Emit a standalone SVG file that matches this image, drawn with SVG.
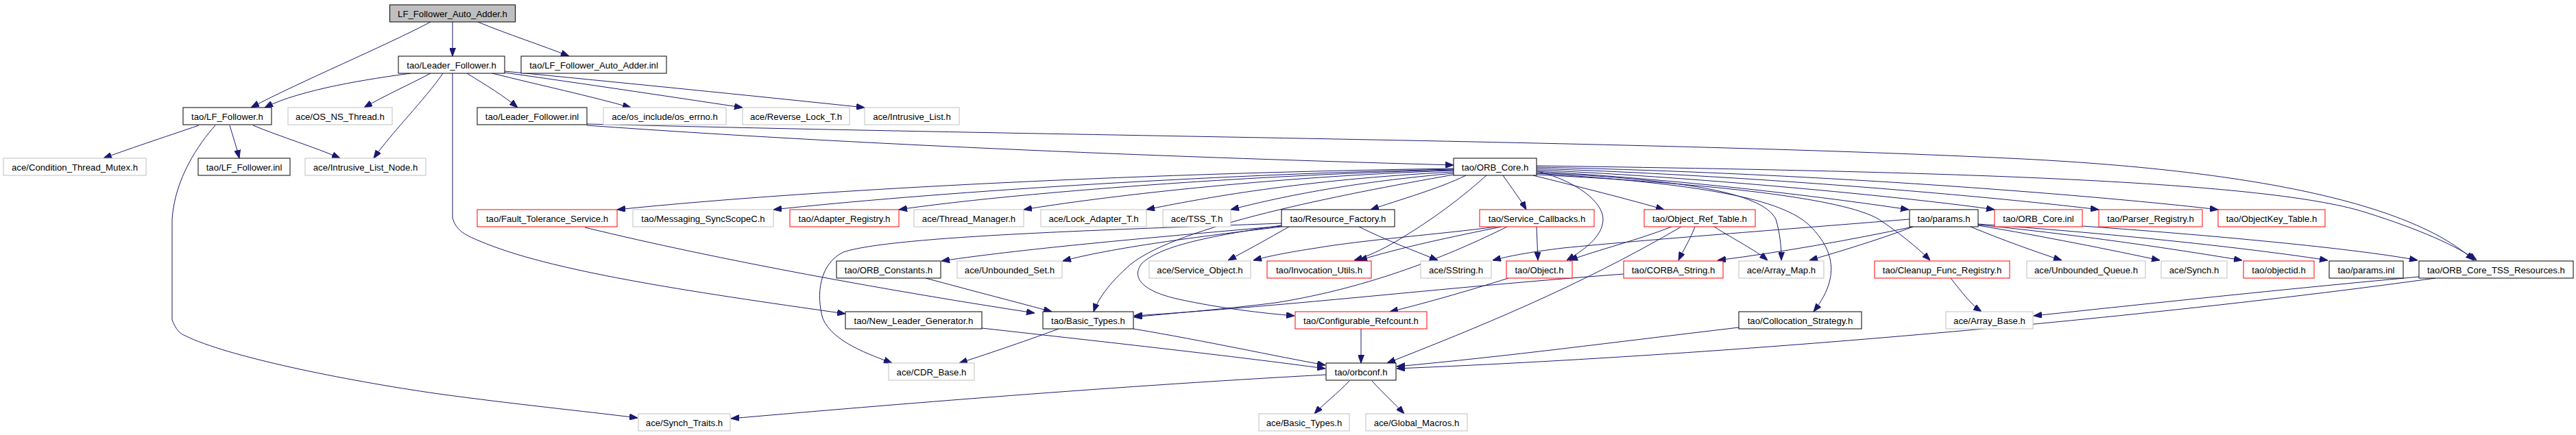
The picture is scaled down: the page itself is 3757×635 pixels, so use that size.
<svg xmlns="http://www.w3.org/2000/svg" width="3757" height="635" viewBox="0 0 3757 635">
<style>
.n rect{fill:#fff;stroke:#000;stroke-width:1}
.g rect{stroke:#bfbfbf}
.r rect{stroke:#ff0000}
.root rect{fill:#bfbfbf;stroke:#000}
text{font-family:"Liberation Sans",Arial,sans-serif;font-size:13.2px;fill:#000;text-anchor:middle}
.e path{fill:none;stroke:#191970;stroke-width:1;marker-end:url(#a)}
</style>
<defs>
<marker id="a" markerWidth="12" markerHeight="9" refX="12" refY="4.5" orient="auto" markerUnits="userSpaceOnUse"><path d="M0,0 L12,4.5 L0,9 z" fill="#191970" stroke="#191970" stroke-width="1"/></marker>
</defs>
<rect width="3757" height="635" fill="#fff"/>
<g class="e" id="edges">
<path d="M628,32 C560,68 440,118 366,157"/>
<path d="M660,32 L660,82"/>
<path d="M697,32 C740,50 790,66 830,82"/>
<path d="M599,107 C540,115 440,130 386,157"/>
<path d="M628,107 C600,122 560,140 531,157"/>
<path d="M646,107 C620,145 570,195 545,231"/>
<path d="M660,107 L660,318 C665,335 675,342 700,352 C800,395 1000,425 1233,458"/>
<path d="M681,107 C710,125 735,140 755,157"/>
<path d="M718,107 C790,125 860,140 920,157"/>
<path d="M736,106 C850,122 970,140 1083,157"/>
<path d="M736,104 C900,120 1100,140 1261,157"/>
<path d="M856,181 C1600,200 2400,205 2950,232 C3300,250 3520,300 3608,380"/>
<path d="M856,183 C1300,215 1800,232 2120,241"/>
<path d="M2120,246 C1700,252 1200,275 900,306"/>
<path d="M2120,247 C1750,255 1350,282 1128,306"/>
<path d="M2120,248 C1800,256 1450,285 1311,306"/>
<path d="M2120,249 C1850,258 1600,288 1493,306"/>
<path d="M2120,251 C1900,262 1750,290 1672,306"/>
<path d="M2120,253 C1950,268 1850,292 1795,306"/>
<path d="M2138,256 C2100,275 2040,292 1999,306"/>
<path d="M2192,256 C2205,275 2218,292 2226,306"/>
<path d="M2236,256 C2300,272 2380,292 2427,306"/>
<path d="M2241,250 C2450,262 2650,286 2784,306"/>
<path d="M2241,248 C2500,260 2800,290 2909,306"/>
<path d="M2241,246 C2600,258 2950,292 3061,306"/>
<path d="M2241,244 C2700,254 3100,290 3235,306"/>
<path d="M2241,242 C2800,250 3300,262 3450,310 C3530,335 3585,360 3612,380"/>
<path d="M2241,252 C2450,262 2570,280 2590,320 C2596,340 2598,360 2598,380"/>
<path d="M2241,253 C2480,268 2600,290 2640,330 C2680,370 2680,410 2645,455"/>
<path d="M2241,255 C2500,268 2690,290 2740,320 C2770,340 2795,360 2815,380"/>
<path d="M2243,250 C2300,265 2338,295 2338,320 C2338,345 2310,365 2285,380"/>
<path d="M2168,256 C2130,290 2090,320 2040,350 C2015,365 1995,374 1975,380"/>
<path d="M2120,255 C1950,285 1720,330 1650,385 C1615,415 1600,440 1595,455"/>
<path d="M1869,330 C1700,345 1500,362 1373,381"/>
<path d="M1869,331 C1750,345 1620,362 1550,381"/>
<path d="M1880,331 C1850,348 1820,365 1791,380"/>
<path d="M1982,331 C2020,350 2060,365 2097,380"/>
<path d="M1869,326 C1600,336 1300,345 1230,368 C1195,385 1190,430 1200,465 C1215,500 1270,518 1301,530"/>
<path d="M1869,329 C1760,345 1690,360 1665,385 C1650,405 1665,425 1720,437 C1780,450 1840,457 1888,461"/>
<path d="M2241,331 L2243,380"/>
<path d="M2190,331 C2120,345 2040,362 1982,380"/>
<path d="M2182,331 C2100,342 1990,350 1920,362 C1880,368 1850,374 1828,380"/>
<path d="M2198,331 C2120,370 2000,420 1860,442 C1780,452 1700,458 1654,463"/>
<path d="M2438,331 C2390,350 2330,365 2289,380"/>
<path d="M2452,331 C2300,420 2150,480 2023,530"/>
<path d="M2472,331 C2465,350 2455,365 2448,380"/>
<path d="M2500,331 C2530,350 2560,365 2578,380"/>
<path d="M2790,331 C2700,350 2600,368 2505,380"/>
<path d="M2790,331 C2740,350 2680,368 2639,380"/>
<path d="M2785,320 C2600,335 2400,350 2280,362 C2230,368 2200,374 2177,380"/>
<path d="M2874,331 C2920,350 2970,368 3007,380"/>
<path d="M2885,329 C2980,345 3080,365 3150,380"/>
<path d="M2885,328 C3050,345 3180,365 3270,380"/>
<path d="M2885,327 C3100,342 3300,365 3395,380"/>
<path d="M3037,330 C3250,345 3450,365 3526,380"/>
<path d="M3528,404 C3300,425 3100,447 2966,461"/>
<path d="M3552,406 C3200,455 2600,515 2037,538"/>
<path d="M2536,478 C2350,500 2200,520 2037,535"/>
<path d="M2368,400 C2100,420 1900,445 1654,461"/>
<path d="M2200,406 C2140,425 2070,445 2027,455"/>
<path d="M1985,480 L1985,530"/>
<path d="M1544,480 C1490,500 1430,520 1399,530"/>
<path d="M1653,480 C1760,498 1860,520 1933,533"/>
<path d="M1432,479 C1620,500 1800,520 1933,538"/>
<path d="M1968,556 C1950,575 1930,590 1917,604"/>
<path d="M2001,556 C2018,575 2035,590 2048,604"/>
<path d="M1934,547 C1600,565 1250,595 1066,611"/>
<path d="M314,183 C290,210 255,260 251,320 L251,467 C256,480 262,487 270,490 C330,520 500,555 640,575 C750,590 850,600 930,610"/>
<path d="M290,183 C240,200 180,220 151,231"/>
<path d="M335,183 C340,200 345,215 349,231"/>
<path d="M369,183 C410,200 460,215 496,231"/>
<path d="M1350,406 C1420,425 1490,443 1534,455"/>
<path d="M853,332 C1050,380 1300,425 1509,457"/>
<path d="M2845,406 C2860,425 2875,445 2890,455"/>
</g>
<g id="n0" class="n root"><rect x="568.5" y="7" width="183" height="25"/><text x="660" y="24.5">LF_Follower_Auto_Adder.h</text></g>
<g id="n1" class="n"><rect x="581" y="82" width="155" height="25"/><text x="658.5" y="99.5">tao/Leader_Follower.h</text></g>
<g id="n2" class="n"><rect x="760" y="82" width="212" height="25"/><text x="866" y="99.5">tao/LF_Follower_Auto_Adder.inl</text></g>
<g id="n3" class="n"><rect x="267" y="157" width="129" height="25"/><text x="331.5" y="174.5">tao/LF_Follower.h</text></g>
<g id="n4" class="n g"><rect x="420" y="157" width="152" height="25"/><text x="496" y="174.5">ace/OS_NS_Thread.h</text></g>
<g id="n5" class="n"><rect x="696" y="157" width="160" height="25"/><text x="776" y="174.5">tao/Leader_Follower.inl</text></g>
<g id="n6" class="n g"><rect x="880" y="157" width="179" height="25"/><text x="969.5" y="174.5">ace/os_include/os_errno.h</text></g>
<g id="n7" class="n g"><rect x="1083" y="157" width="156" height="25"/><text x="1161" y="174.5">ace/Reverse_Lock_T.h</text></g>
<g id="n8" class="n g"><rect x="1261" y="157" width="138" height="25"/><text x="1330" y="174.5">ace/Intrusive_List.h</text></g>
<g id="n9" class="n g"><rect x="5" y="231" width="208" height="25"/><text x="109" y="248.5">ace/Condition_Thread_Mutex.h</text></g>
<g id="n10" class="n"><rect x="289" y="231" width="134" height="25"/><text x="356" y="248.5">tao/LF_Follower.inl</text></g>
<g id="n11" class="n g"><rect x="445" y="231" width="176" height="25"/><text x="533" y="248.5">ace/Intrusive_List_Node.h</text></g>
<g id="n12" class="n"><rect x="2120" y="231" width="121" height="25"/><text x="2180.5" y="248.5">tao/ORB_Core.h</text></g>
<g id="n13" class="n r"><rect x="696" y="306" width="204" height="25"/><text x="798" y="323.5">tao/Fault_Tolerance_Service.h</text></g>
<g id="n14" class="n g"><rect x="923" y="306" width="205" height="25"/><text x="1025.5" y="323.5">tao/Messaging_SyncScopeC.h</text></g>
<g id="n15" class="n r"><rect x="1152" y="306" width="159" height="25"/><text x="1231.5" y="323.5">tao/Adapter_Registry.h</text></g>
<g id="n16" class="n g"><rect x="1333" y="306" width="160" height="25"/><text x="1413" y="323.5">ace/Thread_Manager.h</text></g>
<g id="n17" class="n g"><rect x="1518" y="306" width="154" height="25"/><text x="1595" y="323.5">ace/Lock_Adapter_T.h</text></g>
<g id="n18" class="n g"><rect x="1696" y="306" width="99" height="25"/><text x="1745.5" y="323.5">ace/TSS_T.h</text></g>
<g id="n19" class="n"><rect x="1869" y="306" width="165" height="25"/><text x="1951.5" y="323.5">tao/Resource_Factory.h</text></g>
<g id="n20" class="n r"><rect x="2158" y="306" width="167" height="25"/><text x="2241.5" y="323.5">tao/Service_Callbacks.h</text></g>
<g id="n21" class="n r"><rect x="2398" y="306" width="162" height="25"/><text x="2479" y="323.5">tao/Object_Ref_Table.h</text></g>
<g id="n22" class="n"><rect x="2785" y="306" width="100" height="25"/><text x="2835" y="323.5">tao/params.h</text></g>
<g id="n23" class="n r"><rect x="2909" y="306" width="128" height="25"/><text x="2973" y="323.5">tao/ORB_Core.inl</text></g>
<g id="n24" class="n r"><rect x="3061" y="306" width="151" height="25"/><text x="3136.5" y="323.5">tao/Parser_Registry.h</text></g>
<g id="n25" class="n r"><rect x="3235" y="306" width="156" height="25"/><text x="3313" y="323.5">tao/ObjectKey_Table.h</text></g>
<g id="n26" class="n"><rect x="1220" y="381" width="152" height="25"/><text x="1296" y="398.5">tao/ORB_Constants.h</text></g>
<g id="n27" class="n g"><rect x="1396" y="381" width="153" height="25"/><text x="1472.5" y="398.5">ace/Unbounded_Set.h</text></g>
<g id="n28" class="n g"><rect x="1676" y="381" width="148" height="25"/><text x="1750" y="398.5">ace/Service_Object.h</text></g>
<g id="n29" class="n r"><rect x="1848" y="381" width="152" height="25"/><text x="1924" y="398.5">tao/Invocation_Utils.h</text></g>
<g id="n30" class="n g"><rect x="2072" y="381" width="103" height="25"/><text x="2123.5" y="398.5">ace/SString.h</text></g>
<g id="n31" class="n r"><rect x="2197" y="381" width="96" height="25"/><text x="2245" y="398.5">tao/Object.h</text></g>
<g id="n32" class="n r"><rect x="2368" y="381" width="145" height="25"/><text x="2440.5" y="398.5">tao/CORBA_String.h</text></g>
<g id="n33" class="n g"><rect x="2536" y="381" width="124" height="25"/><text x="2598" y="398.5">ace/Array_Map.h</text></g>
<g id="n34" class="n r"><rect x="2734" y="381" width="197" height="25"/><text x="2832.5" y="398.5">tao/Cleanup_Func_Registry.h</text></g>
<g id="n35" class="n g"><rect x="2956" y="381" width="173" height="25"/><text x="3042.5" y="398.5">ace/Unbounded_Queue.h</text></g>
<g id="n36" class="n g"><rect x="3152" y="381" width="96" height="25"/><text x="3200" y="398.5">ace/Synch.h</text></g>
<g id="n37" class="n r"><rect x="3272" y="381" width="103" height="25"/><text x="3323.5" y="398.5">tao/objectid.h</text></g>
<g id="n38" class="n"><rect x="3397" y="381" width="108" height="25"/><text x="3451" y="398.5">tao/params.inl</text></g>
<g id="n39" class="n"><rect x="3528" y="381" width="225" height="25"/><text x="3640.5" y="398.5">tao/ORB_Core_TSS_Resources.h</text></g>
<g id="n40" class="n"><rect x="1233" y="455" width="199" height="25"/><text x="1332.5" y="472.5">tao/New_Leader_Generator.h</text></g>
<g id="n41" class="n"><rect x="1521" y="455" width="132" height="25"/><text x="1587" y="472.5">tao/Basic_Types.h</text></g>
<g id="n42" class="n r"><rect x="1889" y="455" width="192" height="25"/><text x="1985" y="472.5">tao/Configurable_Refcount.h</text></g>
<g id="n43" class="n"><rect x="2536" y="455" width="179" height="25"/><text x="2625.5" y="472.5">tao/Collocation_Strategy.h</text></g>
<g id="n44" class="n g"><rect x="2838" y="455" width="127" height="25"/><text x="2901.5" y="472.5">ace/Array_Base.h</text></g>
<g id="n45" class="n g"><rect x="1296" y="530" width="125" height="25"/><text x="1358.5" y="547.5">ace/CDR_Base.h</text></g>
<g id="n46" class="n"><rect x="1934" y="530" width="102" height="25"/><text x="1985" y="547.5">tao/orbconf.h</text></g>
<g id="n47" class="n g"><rect x="931" y="604" width="134" height="25"/><text x="998" y="621.5">ace/Synch_Traits.h</text></g>
<g id="n48" class="n g"><rect x="1836" y="604" width="132" height="25"/><text x="1902" y="621.5">ace/Basic_Types.h</text></g>
<g id="n49" class="n g"><rect x="1992" y="604" width="148" height="25"/><text x="2066" y="621.5">ace/Global_Macros.h</text></g>
</svg>
